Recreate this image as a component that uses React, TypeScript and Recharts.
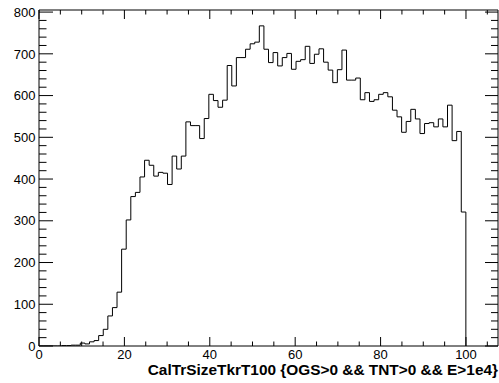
import React from 'react';
import { ComposedChart, Line, XAxis, YAxis } from 'recharts';

// Histogram: 100 bins over [0, 107.5]; only the first 93 bins hold entries
const binLow = 0;
const binWidth = 1.075;
const xMax = 107.5;
const yMax = 805;

const counts = [
  0, 0, 0, 0, 0, 1, 1, 2, 2, 7,
  5, 10, 13, 25, 40, 72, 92, 129, 232, 302,
  358, 368, 405, 445, 433, 407, 416, 414, 387, 455,
  424, 455, 537, 528, 528, 497, 545, 603, 588, 572,
  589, 672, 623, 691, 691, 711, 724, 728, 767, 711,
  679, 703, 671, 691, 701, 663, 682, 686, 718, 677,
  699, 712, 680, 661, 631, 662, 709, 637, 637, 642,
  590, 607, 586, 590, 603, 607, 597, 565, 549, 512,
  538, 567, 544, 509, 533, 535, 525, 544, 525, 577,
  492, 514, 321,
];

const xTicks = [0, 5, 10, 15, 20, 25, 30, 35, 40, 45, 50, 55, 60, 65, 70, 75, 80, 85, 90, 95, 100, 105];
const xMajorLabels = [0, 20, 40, 60, 80, 100];
const yTicks = [
  0, 20, 40, 60, 80, 100, 120, 140, 160, 180, 200, 220, 240, 260, 280, 300, 320, 340, 360, 380,
  400, 420, 440, 460, 480, 500, 520, 540, 560, 580, 600, 620, 640, 660, 680, 700, 720, 740, 760, 780, 800,
];
const yMajorLabels = [0, 100, 200, 300, 400, 500, 600, 700, 800];
const xTitle = 'CalTrSizeTkrT100 {OGS>0 && TNT>0 && E>1e4}';

const data = counts.map((c, i) => ({ x: binLow + i * binWidth, y: c }));
data.push({ x: binLow + counts.length * binWidth, y: 0 });

const FONT = '"Liberation Sans", Arial, Helvetica, sans-serif';

const BottomTick = (p: any) => {
  const v = p.payload.value;
  const major = xMajorLabels.includes(v);
  return (
    <g>
      <line x1={p.x} x2={p.x} y1={p.y} y2={p.y - (major ? 9 : 4.5)} stroke="#000" strokeWidth={1} />
      {major && (
        <text x={p.x} y={p.y + 13} textAnchor="middle" fontSize={13} fontFamily={FONT} fill="#000">
          {v}
        </text>
      )}
    </g>
  );
};

const TopTick = (p: any) => {
  const v = p.payload.value;
  const major = xMajorLabels.includes(v);
  return <line x1={p.x} x2={p.x} y1={p.y} y2={p.y + (major ? 9 : 4.5)} stroke="#000" strokeWidth={1} />;
};

const LeftTick = (p: any) => {
  const v = p.payload.value;
  const major = yMajorLabels.includes(v);
  return (
    <g>
      <line x1={p.x} x2={p.x + (major ? 14 : 7.5)} y1={p.y} y2={p.y} stroke="#000" strokeWidth={1} />
      {major && (
        <text x={p.x - 3.5} y={p.y} dy="0.36em" textAnchor="end" fontSize={13} fontFamily={FONT} fill="#000">
          {v}
        </text>
      )}
    </g>
  );
};

const RightTick = (p: any) => {
  const v = p.payload.value;
  const major = yMajorLabels.includes(v);
  return <line x1={p.x} x2={p.x - (major ? 13 : 7)} y1={p.y} y2={p.y} stroke="#000" strokeWidth={1} />;
};

const TitleLabel = (p: any) => {
  const vb = p.viewBox;
  return (
    <text
      x={vb.x + vb.width}
      y={vb.y + 28.5}
      textAnchor="end"
      fontSize={15.4}
      fontWeight="bold"
      fontFamily={FONT}
      fill="#000"
    >
      {xTitle}
    </text>
  );
};

export default function App() {
  return (
    <div style={{ position: 'absolute', left: 0, top: 0, width: 499, height: 383, background: '#fff' }}>
      <ComposedChart width={499} height={383} data={data} margin={{ top: 9, right: 0, bottom: 36, left: 38 }}>
        <XAxis
          xAxisId="b"
          dataKey="x"
          type="number"
          orientation="bottom"
          domain={[0, xMax]}
          allowDataOverflow
          ticks={xTicks}
          interval={0}
          height={1}
          tickSize={0}
          tickMargin={0}
          tickLine={false}
          axisLine={{ stroke: '#000', strokeWidth: 1 }}
          tick={BottomTick}
          label={{ content: TitleLabel }}
        />
        <XAxis
          xAxisId="t"
          dataKey="x"
          type="number"
          orientation="top"
          domain={[0, xMax]}
          allowDataOverflow
          ticks={xTicks}
          interval={0}
          height={1}
          tickSize={0}
          tickMargin={0}
          tickLine={false}
          axisLine={{ stroke: '#000', strokeWidth: 1 }}
          tick={TopTick}
        />
        <YAxis
          yAxisId="l"
          type="number"
          orientation="left"
          domain={[0, yMax]}
          allowDataOverflow
          ticks={yTicks}
          interval={0}
          width={1}
          tickSize={0}
          tickMargin={0}
          tickLine={false}
          axisLine={{ stroke: '#000', strokeWidth: 1 }}
          tick={LeftTick}
        />
        <YAxis
          yAxisId="r"
          type="number"
          orientation="right"
          domain={[0, yMax]}
          allowDataOverflow
          ticks={yTicks}
          interval={0}
          width={1}
          tickSize={0}
          tickMargin={0}
          tickLine={false}
          axisLine={{ stroke: '#000', strokeWidth: 1 }}
          tick={RightTick}
        />
        <Line
          xAxisId="t"
          yAxisId="r"
          type="stepAfter"
          dataKey="y"
          stroke="none"
          dot={false}
          activeDot={false}
          isAnimationActive={false}
        />
        <Line
          xAxisId="b"
          yAxisId="l"
          type="stepAfter"
          dataKey="y"
          stroke="#000"
          strokeWidth={1}
          dot={false}
          activeDot={false}
          isAnimationActive={false}
        />
      </ComposedChart>
    </div>
  );
}
